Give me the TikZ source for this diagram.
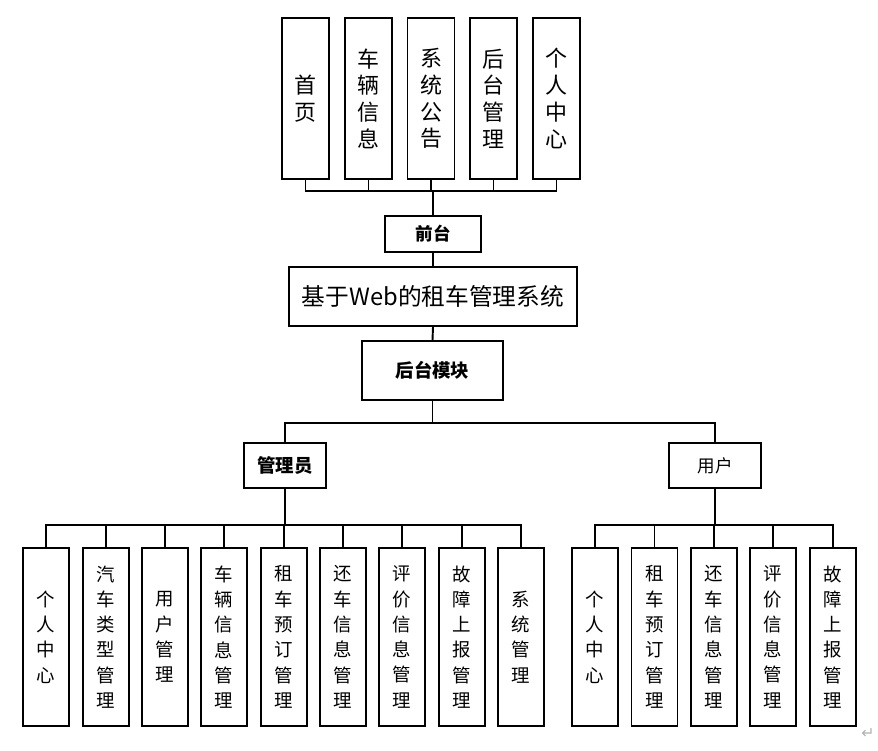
\documentclass[tikz,border=0pt]{standalone}
\usepackage{fontspec}
\setmainfont{Noto Sans CJK SC}
\newfontfamily\symfont{DejaVu Sans}
\usepackage{tikz}
\usetikzlibrary{positioning,calc}

\begin{document}
\begin{tikzpicture}[
    x=0.02cm, y=-0.02cm,
    topbox/.style={draw, line width=0.8pt, minimum width=0.94cm, minimum height=3.22cm, inner sep=0pt, align=center, font=\fontsize{12.5}{15.2}\selectfont},
    leafbox/.style={draw, line width=0.8pt, minimum width=0.92cm, minimum height=3.56cm, inner sep=0pt, align=center, font=\fontsize{10.5}{14.4}\selectfont},
    midbox/.style={draw, line width=0.8pt, inner sep=0pt, font=\fontsize{10}{12}\selectfont},
    bus/.style={line width=0.75pt},
    trunk/.style={line width=1.1pt}
]
    \useasboundingbox (0,0) rectangle (878,750);

    % front end
    \node[topbox] (t1) at (305.5,98.5) {首\\页};
    \node[topbox] (t2) at (368.5,98.5) {车\\辆\\信\\息};
    \node[topbox] (t3) at (431,98.5) {系\\统\\公\\告};
    \node[topbox] (t4) at (493.5,98.5) {后\\台\\管\\理};
    \node[topbox] (t5) at (556.5,98.5) {个\\人\\中\\心};
    \node[midbox, minimum width=1.92cm, minimum height=0.72cm, font=\fontsize{10}{12}\selectfont\bfseries] (front) at (433,234) {前台};

    \node[draw, line width=0.8pt, minimum width=5.76cm, minimum height=1.18cm, font=\fontsize{13.5}{16}\selectfont] (sys) at (433,296.5) {基于Web的租车管理系统};
    \node[midbox, minimum width=2.82cm, minimum height=1.18cm, font=\fontsize{10.5}{12}\selectfont\bfseries] (back) at (432.5,370.5) {后台模块};

    \node[midbox, minimum width=1.64cm, minimum height=0.9cm, font=\fontsize{10.5}{12}\selectfont\bfseries] (admin) at (285,465.5) {管理员};
    \node[midbox, minimum width=1.84cm, minimum height=0.9cm] (user) at (715,465.5) {用户};

    % admin modules
    \node[leafbox] (a1) at (46,637) {个\\人\\中\\心};
    \node[leafbox] (a2) at (106,637) {汽\\车\\类\\型\\管\\理};
    \node[leafbox] (a3) at (165,637) {用\\户\\管\\理};
    \node[leafbox] (a4) at (224,637) {车\\辆\\信\\息\\管\\理};
    \node[leafbox] (a5) at (284,637) {租\\车\\预\\订\\管\\理};
    \node[leafbox] (a6) at (343,637) {还\\车\\信\\息\\管\\理};
    \node[leafbox] (a7) at (402,637) {评\\价\\信\\息\\管\\理};
    \node[leafbox] (a8) at (462,637) {故\\障\\上\\报\\管\\理};
    \node[leafbox] (a9) at (521,637) {系\\统\\管\\理};

    % user modules
    \node[leafbox] (u1) at (595,637) {个\\人\\中\\心};
    \node[leafbox] (u2) at (654.5,637) {租\\车\\预\\订\\管\\理};
    \node[leafbox] (u3) at (714,637) {还\\车\\信\\息\\管\\理};
    \node[leafbox] (u4) at (773,637) {评\\价\\信\\息\\管\\理};
    \node[leafbox] (u5) at (833,637) {故\\障\\上\\报\\管\\理};

    \node[text=gray!60, font=\symfont\fontsize{9}{10}\selectfont] (ret) at (868,734) {↵};

    % connectors
    \coordinate (fbus) at (433,191);
    \foreach \t in {t1,t2,t3,t4,t5}
        \draw[bus] (\t.south) |- (fbus);
    \draw[trunk] (fbus) -- (front.north);
    \draw[trunk] (front.south) -- (sys.north);
    \draw[trunk] (sys.south) -- (back.north);

    \coordinate (bbus) at (432.5,423);
    \draw[bus] (admin.north) |- (bbus) -| (user.north);
    \draw[trunk] (back.south) -- (bbus);

    \coordinate (abus) at (285,525);
    \foreach \a in {a1,a2,a3,a4,a5,a6,a7,a8,a9}
        \draw[bus] (\a.north) |- (abus);
    \draw[trunk] (admin.south) -- (abus);

    \coordinate (ubus) at (715,525);
    \foreach \u in {u1,u2,u3,u4,u5}
        \draw[bus] (\u.north) |- (ubus);
    \draw[trunk] (user.south) -- (ubus);
\end{tikzpicture}
\end{document}
